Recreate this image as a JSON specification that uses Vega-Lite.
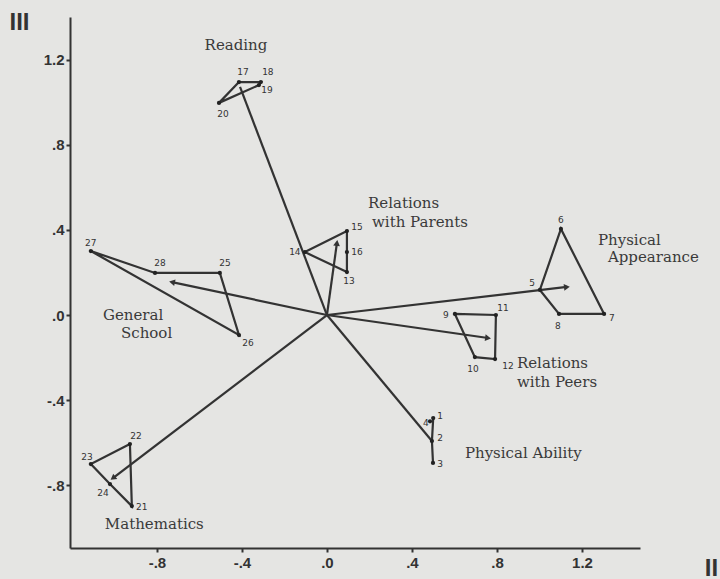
{
  "$schema": "https://vega.github.io/schema/vega-lite/v6.json",
  "width": 570,
  "height": 531,
  "autosize": {"type": "none"},
  "padding": {"left": 70, "top": 17, "right": 80, "bottom": 31},
  "background": "#e5e5e3",
  "config": {
    "view": {"stroke": null},
    "axis": {
      "grid": false,
      "domainColor": "#333333",
      "domainWidth": 2,
      "tickColor": "#333333",
      "tickWidth": 2,
      "tickSize": 4,
      "labelFont": "Liberation Sans",
      "labelFontWeight": "bold",
      "labelFontSize": 15,
      "labelColor": "#333333",
      "titleColor": "#333333",
      "titleFont": "Liberation Sans",
      "titleFontWeight": "bold",
      "titleFontSize": 24
    }
  },
  "datasets": {
    "points": [
      {"id": 1, "x": 0.5, "y": -0.485},
      {"id": 2, "x": 0.494, "y": -0.593},
      {"id": 3, "x": 0.499, "y": -0.696},
      {"id": 4, "x": 0.485, "y": -0.5},
      {"id": 5, "x": 1.002, "y": 0.118},
      {"id": 6, "x": 1.101, "y": 0.405},
      {"id": 7, "x": 1.304, "y": 0.005},
      {"id": 8, "x": 1.092, "y": 0.005},
      {"id": 9, "x": 0.602, "y": 0.005},
      {"id": 10, "x": 0.696, "y": -0.198},
      {"id": 11, "x": 0.795, "y": 0.0},
      {"id": 12, "x": 0.791, "y": -0.207},
      {"id": 13, "x": 0.094, "y": 0.202},
      {"id": 14, "x": -0.104, "y": 0.296},
      {"id": 15, "x": 0.094, "y": 0.395},
      {"id": 16, "x": 0.094, "y": 0.296},
      {"id": 17, "x": -0.414, "y": 1.096},
      {"id": 18, "x": -0.311, "y": 1.096},
      {"id": 19, "x": -0.32, "y": 1.082},
      {"id": 20, "x": -0.508, "y": 0.998},
      {"id": 21, "x": -0.918, "y": -0.899},
      {"id": 22, "x": -0.927, "y": -0.607},
      {"id": 23, "x": -1.111, "y": -0.701},
      {"id": 24, "x": -1.021, "y": -0.795},
      {"id": 25, "x": -0.504, "y": 0.198},
      {"id": 26, "x": -0.414, "y": -0.094},
      {"id": 27, "x": -1.111, "y": 0.301},
      {"id": 28, "x": -0.809, "y": 0.198}
    ],
    "paths": [
      {"grp": "Ability", "ord": 1, "id": 1},
      {"grp": "Ability", "ord": 2, "id": 2},
      {"grp": "Ability", "ord": 3, "id": 3},
      {"grp": "Appearance", "ord": 1, "id": 5},
      {"grp": "Appearance", "ord": 2, "id": 6},
      {"grp": "Appearance", "ord": 3, "id": 7},
      {"grp": "Appearance", "ord": 4, "id": 8},
      {"grp": "Appearance", "ord": 5, "id": 5},
      {"grp": "Peers", "ord": 1, "id": 9},
      {"grp": "Peers", "ord": 2, "id": 11},
      {"grp": "Peers", "ord": 3, "id": 12},
      {"grp": "Peers", "ord": 4, "id": 10},
      {"grp": "Peers", "ord": 5, "id": 9},
      {"grp": "Parents", "ord": 1, "id": 14},
      {"grp": "Parents", "ord": 2, "id": 15},
      {"grp": "Parents", "ord": 3, "id": 16},
      {"grp": "Parents", "ord": 4, "id": 13},
      {"grp": "Parents", "ord": 5, "id": 14},
      {"grp": "Reading", "ord": 1, "id": 17},
      {"grp": "Reading", "ord": 2, "id": 18},
      {"grp": "Reading", "ord": 3, "id": 19},
      {"grp": "Reading", "ord": 4, "id": 20},
      {"grp": "Reading", "ord": 5, "id": 17},
      {"grp": "Mathematics", "ord": 1, "id": 22},
      {"grp": "Mathematics", "ord": 2, "id": 23},
      {"grp": "Mathematics", "ord": 3, "id": 24},
      {"grp": "Mathematics", "ord": 4, "id": 21},
      {"grp": "Mathematics", "ord": 5, "id": 22},
      {"grp": "General", "ord": 1, "id": 27},
      {"grp": "General", "ord": 2, "id": 28},
      {"grp": "General", "ord": 3, "id": 25},
      {"grp": "General", "ord": 4, "id": 26},
      {"grp": "General", "ord": 5, "id": 27}
    ],
    "vectors": [
      {"name": "Physical Ability", "x": 0.494, "y": -0.593},
      {"name": "Physical Appearance", "x": 1.129, "y": 0.132},
      {"name": "Relations with Peers", "x": 0.758, "y": -0.108},
      {"name": "Relations with Parents", "x": 0.047, "y": 0.339},
      {"name": "Reading", "x": -0.409, "y": 1.073},
      {"name": "General School", "x": -0.729, "y": 0.155},
      {"name": "Mathematics", "x": -1.007, "y": -0.767}
    ],
    "numlabels": [
      {"id": "1", "x": 0.532, "y": -0.475},
      {"id": "2", "x": 0.532, "y": -0.579},
      {"id": "3", "x": 0.532, "y": -0.701},
      {"id": "4", "x": 0.466, "y": -0.508},
      {"id": "5", "x": 0.965, "y": 0.151},
      {"id": "6", "x": 1.101, "y": 0.447},
      {"id": "7", "x": 1.341, "y": -0.014},
      {"id": "8", "x": 1.087, "y": -0.052},
      {"id": "9", "x": 0.56, "y": 0.0},
      {"id": "10", "x": 0.687, "y": -0.254},
      {"id": "11", "x": 0.828, "y": 0.033},
      {"id": "12", "x": 0.852, "y": -0.24},
      {"id": "13", "x": 0.104, "y": 0.16},
      {"id": "14", "x": -0.151, "y": 0.296},
      {"id": "15", "x": 0.141, "y": 0.414},
      {"id": "16", "x": 0.141, "y": 0.296},
      {"id": "17", "x": -0.395, "y": 1.144},
      {"id": "18", "x": -0.278, "y": 1.144},
      {"id": "19", "x": -0.282, "y": 1.059},
      {"id": "20", "x": -0.489, "y": 0.946},
      {"id": "21", "x": -0.871, "y": -0.904},
      {"id": "22", "x": -0.899, "y": -0.569},
      {"id": "23", "x": -1.129, "y": -0.668},
      {"id": "24", "x": -1.054, "y": -0.838},
      {"id": "25", "x": -0.48, "y": 0.245},
      {"id": "26", "x": -0.372, "y": -0.132},
      {"id": "27", "x": -1.111, "y": 0.339},
      {"id": "28", "x": -0.786, "y": 0.245}
    ],
    "grouplabels": [
      {"text": "Reading", "x": -0.428, "y": 1.271, "al": "center"},
      {"text": "Relations", "x": 0.193, "y": 0.527, "al": "left"},
      {"text": "with Parents", "x": 0.212, "y": 0.438, "al": "left"},
      {"text": "Physical", "x": 1.275, "y": 0.353, "al": "left"},
      {"text": "Appearance", "x": 1.322, "y": 0.273, "al": "left"},
      {"text": "Relations", "x": 0.894, "y": -0.226, "al": "left"},
      {"text": "with Peers", "x": 0.894, "y": -0.315, "al": "left"},
      {"text": "Physical Ability", "x": 0.649, "y": -0.649, "al": "left"},
      {"text": "General", "x": -1.054, "y": 0.0, "al": "left"},
      {"text": "School", "x": -0.969, "y": -0.085, "al": "left"},
      {"text": "Mathematics", "x": -1.045, "y": -0.984, "al": "left"}
    ]
  },
  "layer": [
    {
      "data": {"name": "paths"},
      "transform": [
        {"lookup": "id", "from": {"data": {"name": "points"}, "key": "id", "fields": ["x", "y"]}}
      ],
      "mark": {"type": "line", "color": "#333333", "strokeWidth": 2.2},
      "encoding": {
        "x": {
          "field": "x", "type": "quantitative",
          "scale": {"domain": [-1.209, 1.473], "nice": false, "zero": false},
          "axis": {
            "values": [-0.8, -0.4, 0, 0.4, 0.8, 1.2],
            "labelExpr": "(datum.value < 0 ? '-' : '') + replace(format(abs(datum.value), '.1f'), '0.', '.')",
            "labelPadding": 3,
            "title": "II",
            "titleAngle": 0,
            "titleX": 641,
            "titleY": 20,
            "titleAlign": "center",
            "titleBaseline": "middle"
          }
        },
        "y": {
          "field": "y", "type": "quantitative",
          "scale": {"domain": [-1.096, 1.402], "nice": false, "zero": false},
          "axis": {
            "values": [-0.8, -0.4, 0, 0.4, 0.8, 1.2],
            "labelExpr": "(datum.value < 0 ? '-' : '') + replace(format(abs(datum.value), '.1f'), '0.', '.')",
            "labelPadding": 2,
            "title": "III",
            "titleAngle": 0,
            "titleX": -51,
            "titleY": 5,
            "titleAlign": "center",
            "titleBaseline": "middle"
          }
        },
        "detail": {"field": "grp"},
        "order": {"field": "ord", "type": "quantitative"}
      }
    },
    {
      "data": {"name": "vectors"},
      "mark": {"type": "rule", "color": "#333333", "strokeWidth": 2.2},
      "encoding": {
        "x": {"field": "x", "type": "quantitative", "scale": {"domain": [-1.209, 1.473], "nice": false, "zero": false}},
        "y": {"field": "y", "type": "quantitative", "scale": {"domain": [-1.096, 1.402], "nice": false, "zero": false}},
        "x2": {"datum": 0},
        "y2": {"datum": 0}
      }
    },
    {
      "data": {"name": "vectors"},
      "transform": [
        {"filter": "datum.name != 'Reading' && datum.name != 'Physical Ability'"},
        {"calculate": "atan2(datum.x, datum.y) * 180 / PI", "as": "ang"}
      ],
      "mark": {"type": "point", "shape": "triangle-up", "filled": true, "color": "#333333", "size": 45, "opacity": 1},
      "encoding": {
        "x": {"field": "x", "type": "quantitative", "scale": {"domain": [-1.209, 1.473], "nice": false, "zero": false}},
        "y": {"field": "y", "type": "quantitative", "scale": {"domain": [-1.096, 1.402], "nice": false, "zero": false}},
        "angle": {"field": "ang", "type": "quantitative", "scale": null}
      }
    },
    {
      "data": {"name": "points"},
      "mark": {"type": "point", "shape": "circle", "filled": true, "color": "#222222", "size": 18, "opacity": 1},
      "encoding": {
        "x": {"field": "x", "type": "quantitative", "scale": {"domain": [-1.209, 1.473], "nice": false, "zero": false}},
        "y": {"field": "y", "type": "quantitative", "scale": {"domain": [-1.096, 1.402], "nice": false, "zero": false}}
      }
    },
    {
      "data": {"name": "numlabels"},
      "mark": {"type": "text", "font": "DejaVu Sans", "fontSize": 9, "color": "#333333", "align": "center", "baseline": "middle"},
      "encoding": {
        "x": {"field": "x", "type": "quantitative", "scale": {"domain": [-1.209, 1.473], "nice": false, "zero": false}},
        "y": {"field": "y", "type": "quantitative", "scale": {"domain": [-1.096, 1.402], "nice": false, "zero": false}},
        "text": {"field": "id"}
      }
    },
    {
      "data": {"name": "grouplabels"},
      "mark": {"type": "text", "font": "DejaVu Serif", "fontSize": 15, "color": "#3a3a3a", "baseline": "middle", "align": {"expr": "datum.al"}},
      "encoding": {
        "x": {"field": "x", "type": "quantitative", "scale": {"domain": [-1.209, 1.473], "nice": false, "zero": false}},
        "y": {"field": "y", "type": "quantitative", "scale": {"domain": [-1.096, 1.402], "nice": false, "zero": false}},
        "text": {"field": "text"}
      }
    }
  ]
}
